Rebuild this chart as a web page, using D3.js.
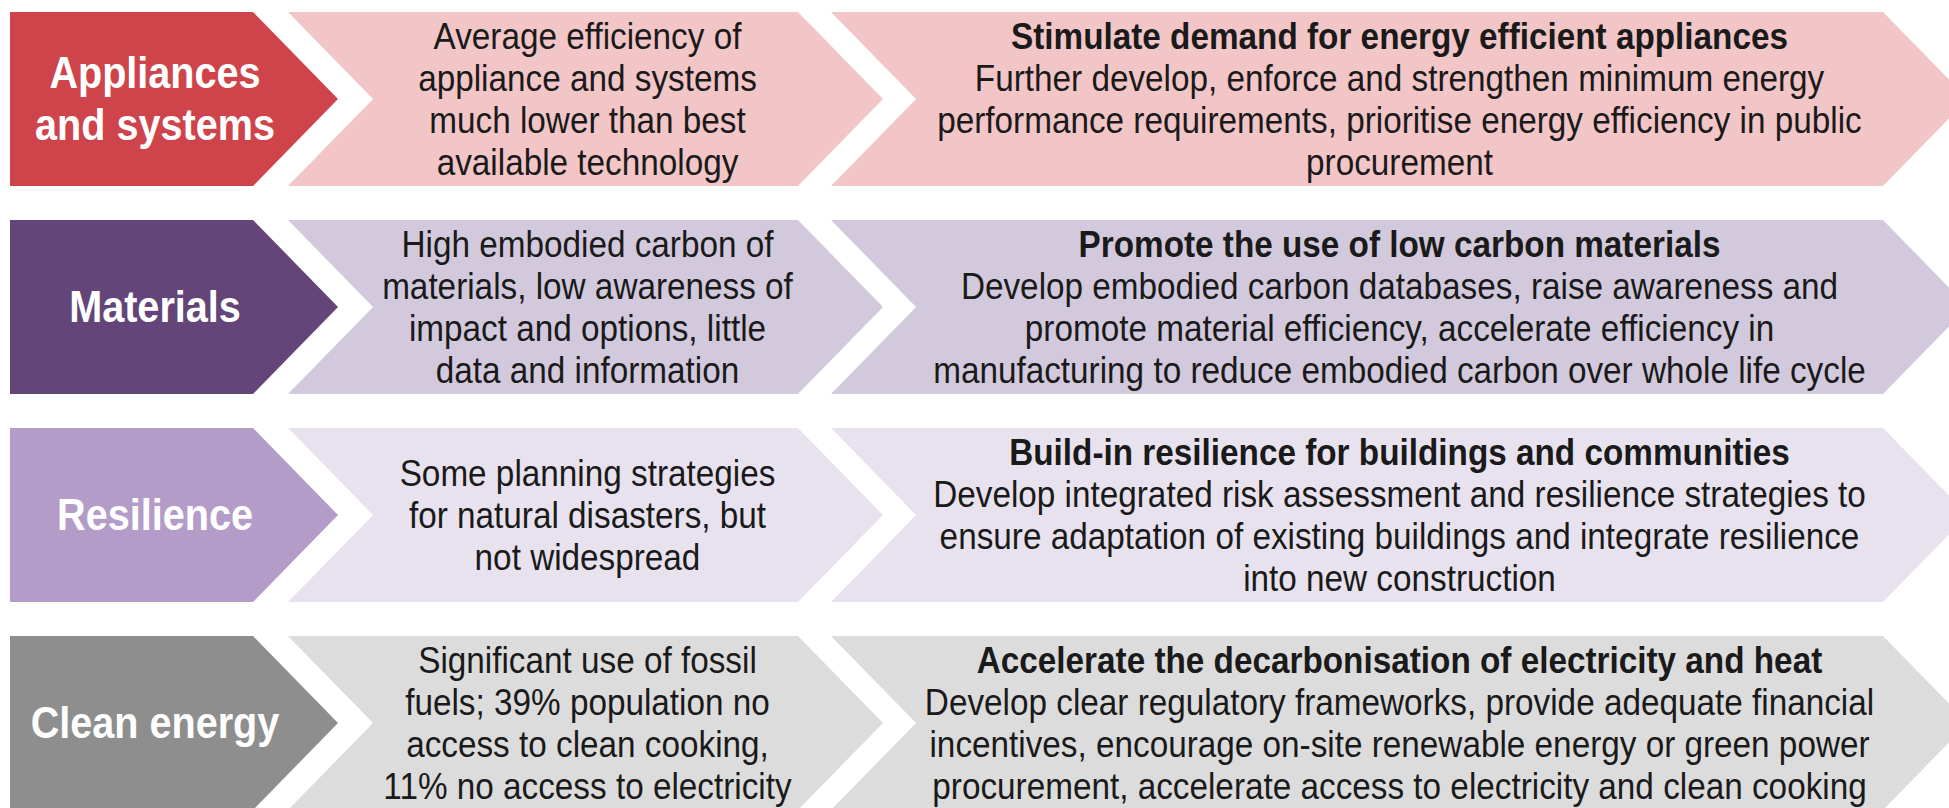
<!DOCTYPE html>
<html>
<head>
<meta charset="utf-8">
<script src="https://cdn.jsdelivr.net/npm/d3@7/dist/d3.min.js"></script>
<style>
  html, body { margin: 0; padding: 0; background: #fff; overflow: hidden; }
  svg text { font-family: Arial, "Liberation Sans", sans-serif; }
</style>
</head>
<body>
<script>
// rows of the table
const categories = ["Appliances and systems", "Materials", "Resilience", "Clean energy"];
const labelLines = [["Appliances", "and systems"], ["Materials"], ["Resilience"], ["Clean energy"]];
const challenges = [
  ["Average efficiency of", "appliance and systems", "much lower than best", "available technology"],
  ["High embodied carbon of", "materials, low awareness of", "impact and options, little", "data and information"],
  ["Some planning strategies", "for natural disasters, but", "not widespread"],
  ["Significant use of fossil", "fuels; 39% population no", "access to clean cooking,", "11% no access to electricity"]
];
const actionTitles = [
  "Stimulate demand for energy efficient appliances",
  "Promote the use of low carbon materials",
  "Build-in resilience for buildings and communities",
  "Accelerate the decarbonisation of electricity and heat"
];
const actionLines = [
  ["Further develop, enforce and strengthen minimum energy", "performance requirements, prioritise energy efficiency in public", "procurement"],
  ["Develop embodied carbon databases, raise awareness and", "promote material efficiency, accelerate efficiency in", "manufacturing to reduce embodied carbon over whole life cycle"],
  ["Develop integrated risk assessment and resilience strategies to", "ensure adaptation of existing buildings and integrate resilience", "into new construction"],
  ["Develop clear regulatory frameworks, provide adequate financial", "incentives, encourage on-site renewable energy or green power", "procurement, accelerate access to electricity and clean cooking"]
];
const darkColors = ["#cf444b", "#634579", "#b39cc8", "#8e8e8e"];
const lightColors = ["#f2c5c7", "#d3c9dc", "#e8e2ee", "#dcdcdc"];

const W = 1949, H = 808;
const depth = 85;           // horizontal depth of a chevron point
const squeeze = 0.9;        // the source font is a bit narrower than Arial

const svg = d3.select("body").append("svg")
  .attr("width", W).attr("height", H)
  .attr("viewBox", [0, 0, W, H]);

const y = d3.scaleBand()
  .domain(categories)
  .range([12, 810])
  .paddingInner(34 / 208)
  .paddingOuter(0);

// three columns: label, challenge, action
const cols = [
  { x0: 10, x1: 253, notch: false },
  { x0: 288, x1: 798, notch: true },
  { x0: 831, x1: 1883, notch: true }
];

const line = d3.line();
function chevron(c, top, h) {
  const mid = top + h / 2, bot = top + h;
  const pts = [[c.x0, top], [c.x1, top], [c.x1 + depth, mid], [c.x1, bot], [c.x0, bot]];
  if (c.notch) pts.push([c.x0 + depth, mid]);
  return line(pts) + "Z";
}

function block(g, lines, cx, cy, size, step, fill, boldFirst, allBold) {
  const t0 = cy - (lines.length - 1) * step / 2;
  lines.forEach((s, i) => {
    g.append("text")
      .attr("transform", `translate(${cx},${t0 + i * step}) scale(${squeeze},1)`)
      .attr("text-anchor", "middle")
      .attr("dominant-baseline", "central")
      .attr("font-family", "Arial, 'Liberation Sans', sans-serif")
      .attr("font-size", size)
      .attr("font-weight", allBold || (boldFirst && i === 0) ? "bold" : "normal")
      .attr("fill", fill)
      .text(s);
  });
}

categories.forEach((cat, i) => {
  const top = y(cat), h = y.bandwidth(), cy = top + h / 2;
  const g = svg.append("g").attr("class", "row");

  g.append("path").attr("d", chevron(cols[0], top, h)).attr("fill", darkColors[i]);
  g.append("path").attr("d", chevron(cols[1], top, h)).attr("fill", lightColors[i]);
  g.append("path").attr("d", chevron(cols[2], top, h)).attr("fill", lightColors[i]);

  block(g, labelLines[i], cols[0].x0 + 145, cy, 44, 52, "#fff", false, true);
  block(g, challenges[i], (cols[1].x0 + cols[1].x1 + depth) / 2 + 2, cy, 37, 42, "#1a1a1a", false, false);
  block(g, [actionTitles[i]].concat(actionLines[i]), (cols[2].x0 + cols[2].x1 + depth) / 2, cy, 37, 42, "#1a1a1a", true, false);
});
</script>
</body>
</html>
